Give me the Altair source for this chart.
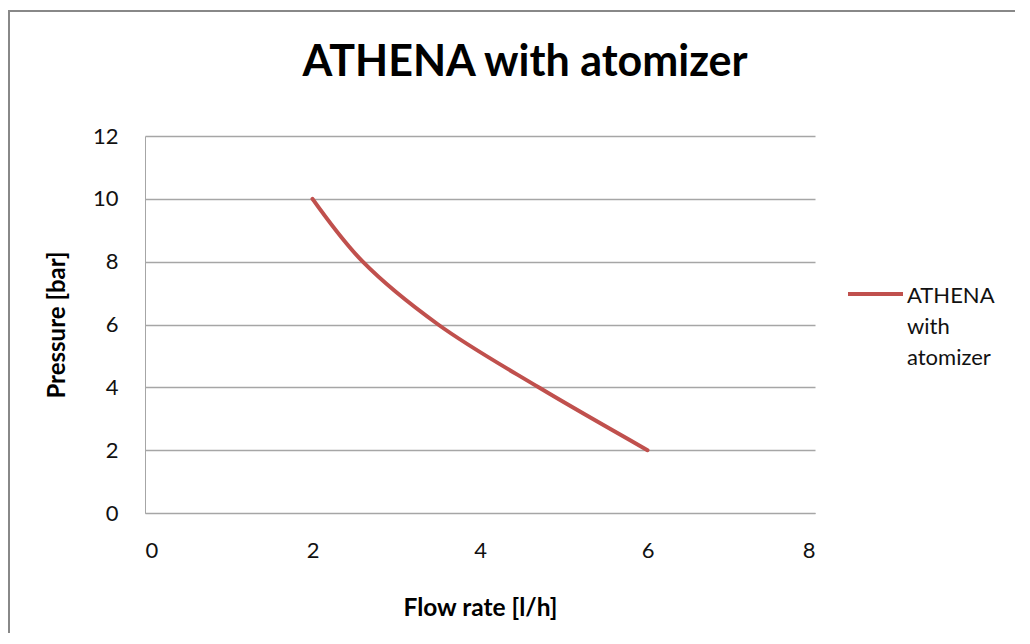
import altair as alt
import pandas as pd

flow_rate = [2.0, 2.6, 3.5, 4.7, 6.0]
pressure = [10, 8, 6, 4, 2]
series_name = "ATHENA with atomizer"

x_ticks = [0, 2, 4, 6, 8]
y_ticks = [0, 2, 4, 6, 8, 10, 12]

FONT = "Lato"
RED = "#c0504d"
GRID = "#a6a6a6"

df = pd.DataFrame({"flow": flow_rate, "pressure": pressure, "series": series_name})
legend_df = pd.DataFrame({"series": [series_name], "label": ["ATHENA\nwith\natomizer"]})

W, H = 670, 377

line = alt.Chart(df).mark_line(
    color=RED, strokeWidth=4, interpolate="catmull-rom", strokeCap="round"
).encode(
    x=alt.X("flow:Q",
            scale=alt.Scale(domain=[0, 8], nice=False),
            axis=alt.Axis(values=x_ticks, title="Flow rate [l/h]", grid=False,
                          ticks=False, domain=True, domainColor=GRID,
                          labelPadding=27, labelFontSize=22, labelFont=FONT,
                          labelColor="#111111",
                          titleFont=FONT, titleFontSize=24.5, titleFontWeight="bold",
                          titleColor="#000000", titleY=95, titleBaseline="middle")),
    y=alt.Y("pressure:Q",
            scale=alt.Scale(domain=[0, 12], nice=False),
            axis=alt.Axis(values=y_ticks, title="Pressure [bar]", grid=True,
                          gridColor=GRID, gridWidth=1.3,
                          ticks=False, domain=True, domainColor=GRID,
                          labelPadding=27, labelFontSize=22, labelFont=FONT,
                          labelColor="#111111",
                          titleFont=FONT, titleFontSize=24, titleFontWeight="bold",
                          titleColor="#000000", titleX=-88, titleY=H / 2,
                          titleAngle=270, titleAlign="center",
                          titleBaseline="middle")),
)

legend_line = alt.Chart(legend_df).mark_rule(color=RED, strokeWidth=4).encode(
    x=alt.value(703), x2=alt.value(758), y=alt.value(158)
)
legend_text = alt.Chart(legend_df).mark_text(
    align="left", baseline="middle", font=FONT, fontSize=22, lineBreak="\n",
    lineHeight=31, color="#111111"
).encode(
    x=alt.value(762), y=alt.value(160), text="label:N"
)

frame_left = alt.Chart(legend_df).mark_rule(
    stroke="#888888", strokeWidth=2, clip=False
).encode(
    x=alt.value(-136), y=alt.value(-126), y2=alt.value(650)
)
frame_top = alt.Chart(legend_df).mark_rule(
    stroke="#888888", strokeWidth=2, clip=False
).encode(
    x=alt.value(-137), x2=alt.value(950), y=alt.value(-125)
)

chart = alt.layer(frame_left, frame_top, line, legend_line, legend_text).properties(
    width=W, height=H,
    padding={"left": 137, "top": 128, "right": 200, "bottom": 120},
    autosize=alt.AutoSizeParams(type="none"),
    title=alt.Title(series_name, font=FONT, fontSize=43, fontWeight="bold",
                    color="#000000", dx=45, offset=-110, anchor="middle",
                    frame="group", baseline="alphabetic"),
    background="white",
).configure_view(stroke=None)

chart.save("out.html", embed_options={"renderer": "svg", "actions": False})
